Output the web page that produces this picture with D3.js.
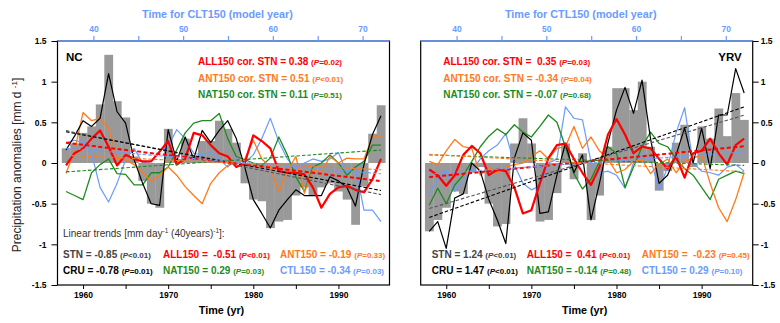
<!DOCTYPE html>
<html>
<head>
<meta charset="utf-8">
<script src="https://cdn.jsdelivr.net/npm/d3@7"></script>
<style>
  body { margin: 0; background: #fff; }
  svg { display: block; font-family: "Liberation Sans", Arial, Helvetica, sans-serif; }
  text { white-space: pre; }
</style>
</head>
<body>
<div id="chart"></div>
<script>

// --------------------------------------------------------
// (1) Data
// --------------------------------------------------------

var years = d3.range(1958, 1996)

// NC panel
var stnNC = [0.18,0.24,0.37,0.45,0.72,1.33,0.76,0.56,0.08,-0.22,-0.50,-0.55,
             0.42,0.05,0.30,0.08,0.27,0.27,0.52,0.42,0.25,-0.25,
             -0.45,-0.47,-0.80,-0.72,-0.70,-0.40,-0.30,-0.40,-0.30,-0.25,-0.35,-0.45,-0.76,-0.29,0.36,0.71]
var cruNC = [0.16,0.33,0.52,0.45,0.55,1.10,0.63,0.49,0.04,-0.25,-0.50,-0.52,
             0.41,0.02,0.32,0.05,0.40,0.25,0.40,0.52,0.30,-0.05,
             -0.45,-0.62,-0.80,-0.58,-0.45,-0.33,-0.40,-0.40,-0.40,-0.17,-0.22,-0.30,-0.53,-0.02,0.35,0.58]
var allNC = [-0.03,0.12,0.18,0.30,0.40,0.20,-0.03,0.10,0.05,0.02,0.02,0.14,
             0.27,-0.02,0.05,0.37,0.34,0.22,0.12,0.08,-0.05,0.00,
             0.34,0.27,0.18,-0.10,-0.12,-0.12,-0.14,-0.30,-0.55,-0.38,-0.30,-0.28,-0.33,-0.36,-0.20,0.05]
var antNC = [-0.13,0.15,0.62,0.52,0.55,0.43,0.06,0.04,-0.02,-0.12,-0.22,-0.15,
             -0.05,-0.15,-0.29,-0.40,-0.50,-0.25,-0.12,-0.03,0.00,0.05,
             0.28,0.05,-0.05,-0.35,-0.10,0.08,-0.37,-0.08,-0.12,0.08,0.00,0.06,0.05,0.05,0.32,0.32]
var natNC = [-0.35,-0.40,-0.45,-0.12,-0.02,0.05,-0.13,-0.14,-0.27,-0.27,-0.12,-0.12,
             -0.05,0.16,0.37,0.49,0.52,0.52,0.61,0.30,0.08,0.04,
             0.00,-0.03,0.06,0.32,0.10,-0.17,-0.35,-0.05,0.00,0.10,0.00,-0.15,-0.05,0.02,0.22,0.22]
var ctlNC = [0.25,0.28,0.25,0.12,-0.30,-0.48,-0.25,0.04,0.18,0.00,0.02,0.15,
             0.20,0.41,0.30,0.12,0.10,0.13,0.05,-0.05,0.05,0.00,
             0.10,0.30,0.55,0.26,0.05,-0.08,0.00,0.05,0.02,0.05,0.13,-0.12,-0.05,-0.58,-0.58,-0.72]

// YRV panel
var stnYRV = [-0.84,-0.70,-0.55,-0.35,-0.38,-0.12,-0.05,-0.50,-0.78,-0.75,0.24,0.55,
              0.24,-0.72,-0.70,-0.37,0.24,-0.20,0.12,-0.70,-0.40,0.20,
              0.92,0.92,0.65,1.00,0.20,-0.34,-0.10,0.25,0.47,-0.05,0.45,0.30,0.67,0.33,0.86,0.53]
var cruYRV = [-0.84,-0.72,-1.05,-0.43,-0.38,0.00,-0.10,-0.45,-0.70,-0.99,0.06,0.37,
              0.28,-0.62,-0.60,-0.15,0.24,-0.12,0.10,-0.70,-0.25,0.25,
              0.65,0.93,0.61,1.02,0.30,-0.25,-0.15,0.10,0.43,0.00,0.43,-0.07,0.59,0.59,1.16,0.86]
var allYRV = [-0.08,-0.15,-0.28,-0.15,0.10,0.21,0.12,-0.15,-0.08,-0.10,-0.30,-0.62,
              -0.58,-0.25,0.06,0.22,0.24,0.05,-0.12,-0.27,-0.05,0.35,
              0.54,0.35,0.12,0.20,0.18,0.05,-0.07,0.08,-0.18,0.12,0.15,0.30,0.12,-0.02,0.22,0.30]
var antYRV = [0.02,-0.02,0.15,0.29,0.20,0.18,-0.15,-0.05,-0.12,-0.05,-0.02,0.00,
              0.08,0.15,0.05,0.18,0.20,0.45,0.18,0.32,0.15,0.05,
              -0.12,-0.08,0.02,0.04,-0.13,-0.02,0.05,-0.12,0.02,0.06,0.10,-0.25,-0.55,-0.72,-0.45,-0.12]
var natYRV = [-0.52,-0.31,-0.50,-0.27,-0.15,0.02,0.20,0.33,0.42,0.35,0.47,0.38,
              0.32,0.45,0.59,0.50,0.20,-0.13,-0.32,-0.20,0.02,0.20,
              0.12,-0.30,-0.05,0.20,0.38,0.24,0.20,0.05,-0.07,-0.15,-0.30,-0.45,-0.20,-0.15,-0.10,-0.13]
var ctlYRV = [-0.38,-0.20,-0.10,-0.35,-0.22,-0.10,0.05,0.15,0.22,0.36,-0.02,-0.25,
              -0.33,-0.28,0.00,0.05,0.69,0.55,0.53,0.02,-0.12,-0.10,
              -0.15,-0.31,0.00,0.10,0.05,-0.33,-0.05,0.37,0.68,0.00,-0.10,-0.12,-0.15,-0.05,-0.02,-0.10]

// correlation texts
var corLabels = ["ALL150", "ANT150", "NAT150"]
var corNC = ["0.38", "0.51", "0.11"]
var corPNC = ["=0.02", "<0.01", "=0.51"]
var corYRV = [" 0.35", "-0.34", "-0.07"]
var corPYRV = ["=0.03", "=0.04", "=0.68"]

// linear trends (mm/day per 40 years), order: STN, CRU, ALL, NAT, ANT, CTL
var trendLabels = ["STN", "CRU", "ALL150", "NAT150", "ANT150", "CTL150"]
var trendNC = ["-0.85", "-0.78", " -0.51", "0.29", "-0.19", "-0.34"]
var trendPNC = ["<0.01", "=0.01", "<0.01", "=0.03", "=0.33", "=0.03"]
var trendYRV = ["1.24", "1.47", " 0.41", "-0.14", " -0.23", "0.29"]
var trendPYRV = ["<0.01", "<0.01", "<0.01", "=0.48", "=0.45", "=0.10"]

var yTicks = [-1.5, -1, -0.5, 0, 0.5, 1, 1.5]
var yearTicks = [1960, 1965, 1970, 1975, 1980, 1985, 1990]
var modelTicks = [40, 45, 50, 55, 60, 65, 70]


// --------------------------------------------------------
// (2) Layout
// --------------------------------------------------------

var svg_width = 780
var svg_height = 323
var top_y = 41
var bottom_y = 285
var panel_w = 332

var blue = "#6b9bff"
var colors = { STN: "#444", CRU: "#000", ALL150: "#ff0000", ANT150: "#ff7a1a", NAT150: "#1c8c1c", CTL150: "#6b9bff" }

const svg = d3.select("#chart")
  .append("svg")
    .attr("width", svg_width)
    .attr("height", svg_height)

const y = d3.scaleLinear().domain([-1.5, 1.5]).range([bottom_y, top_y])


// small helper: "LABEL = value (P=..)"
function statText(g, x0, y0, label, value, p, color) {
  const t = g.append("text")
      .attr("x", x0).attr("y", y0)
      .attr("fill", color)
      .attr("font-weight", "bold")
  t.append("tspan").attr("font-size", 10).text(label + " = " + value + " ")
  t.append("tspan").attr("font-size", 8).text("(")
  t.append("tspan").attr("font-size", 8).attr("font-style", "italic").text("P")
  t.append("tspan").attr("font-size", 8).text(p + ")")
}


// --------------------------------------------------------
// (3) Draw one panel
// --------------------------------------------------------

function drawPanel(o) {

  const g = svg.append("g").attr("transform", `translate(${o.left}, 0)`)

  const x = d3.scaleLinear().domain([1957, 1996]).range([0, panel_w])
  const xm = d3.scaleLinear().domain([36, 73]).range([0, panel_w])
  const bw = x(1958) - x(1957)

  // (31) STN bars
  g.selectAll(".bar")
    .data(o.stn)
    .join("rect")
      .attr("x", (d, i) => x(years[i]) - bw / 2)
      .attr("width", bw + 0.3)
      .attr("y", d => y(Math.max(0, d)))
      .attr("height", d => Math.abs(y(d) - y(0)))
      .attr("fill", "#999")

  // (32) model lines
  const line = d3.line().x((d, i) => x(years[i])).y(d => y(d))
  const series = [
    { v: o.ctl, c: colors.CTL150, w: 1.2 },
    { v: o.nat, c: colors.NAT150, w: 1.3 },
    { v: o.ant, c: colors.ANT150, w: 1.3 },
    { v: o.cru, c: "#000", w: 1.2 },
    { v: o.all, c: colors.ALL150, w: 2.2 }
  ]
  series.forEach(s => {
    g.append("path")
      .datum(s.v)
      .attr("d", line)
      .attr("fill", "none")
      .attr("stroke", s.c)
      .attr("stroke-width", s.w)
      .attr("stroke-linejoin", "round")
  })

  // (33) linear trend lines (slope from text, through series mean)
  const trendSeries = [o.stn, o.cru, o.all, o.nat, o.ant, o.ctl]
  const trendColors = ["#555", "#000", colors.ALL150, colors.NAT150, colors.ANT150, colors.CTL150]
  const ym = d3.mean(years)
  trendSeries.forEach((s, k) => {
    const slope = +o.trend[k] / 40
    const m = d3.mean(s)
    const ends = [1958, 1995].map(yr => [x(yr), y(m + slope * (yr - ym))])
    g.append("line")
      .attr("x1", ends[0][0]).attr("y1", ends[0][1])
      .attr("x2", ends[1][0]).attr("y2", ends[1][1])
      .attr("stroke", trendColors[k])
      .attr("stroke-width", k == 2 ? 2 : 1.1)
      .attr("stroke-dasharray", k == 2 ? "4,2.5" : "3.5,2")
  })

  // (34) frame
  g.append("rect")
    .attr("x", 0).attr("y", top_y)
    .attr("width", panel_w).attr("height", bottom_y - top_y)
    .attr("fill", "none").attr("stroke", "#000").attr("stroke-width", 1.2)

  // (35) bottom axis
  const xb = g.append("g")
    .attr("transform", `translate(0, ${bottom_y})`)
    .call(d3.axisBottom(x).tickValues(yearTicks).tickSize(4).tickPadding(3)
      .tickFormat(d => d % 10 == 0 ? d : ""))
  xb.select(".domain").remove()
  xb.selectAll("text").attr("font-size", 8.5).attr("font-weight", "bold")
    .attr("font-family", null)

  // (36) top axis (model years)
  const xt = g.append("g")
    .attr("transform", `translate(0, ${top_y})`)
    .call(d3.axisTop(xm).tickValues(modelTicks).tickSize(5).tickPadding(4)
      .tickFormat(d => d % 10 == 0 ? d : ""))
  xt.select(".domain").remove()
  xt.selectAll("line").attr("stroke", blue).attr("stroke-width", 1.2)
  xt.selectAll("text").attr("fill", blue).attr("font-size", 8.5).attr("font-weight", "bold")
    .attr("font-family", null)
  g.append("line")
    .attr("x1", 0).attr("x2", panel_w).attr("y1", top_y).attr("y2", top_y)
    .attr("stroke", blue).attr("stroke-width", 1.4)

  g.append("text")
    .attr("x", panel_w / 2 - 6).attr("y", 17.5)
    .attr("text-anchor", "middle")
    .attr("fill", blue).attr("font-size", 10.8).attr("font-weight", "bold")
    .text(o.topTitle)

  // (37) y axis
  const yAxis = o.yRight
    ? d3.axisRight(y).tickSize(6).tickPadding(2)
    : d3.axisLeft(y).tickSize(6).tickPadding(5)
  const ya = g.append("g")
    .attr("transform", `translate(${o.yRight ? panel_w : 0}, 0)`)
    .call(yAxis.tickValues(yTicks).tickFormat(d => String(d)))
  ya.select(".domain").remove()
  ya.selectAll("text").attr("font-size", 8.5).attr("font-weight", "bold")
    .attr("font-family", null)

  g.append("text")
    .attr("x", panel_w / 2 - 2).attr("y", 314)
    .attr("text-anchor", "middle")
    .attr("font-size", 10.8).attr("font-weight", "bold")
    .text("Time (yr)")

  // (38) region name
  g.append("text")
    .attr("x", o.nameX).attr("y", 61)
    .attr("text-anchor", o.nameAnchor)
    .attr("font-size", 11.5).attr("font-weight", "bold")
    .text(o.name)

  // (39) correlation texts
  corLabels.forEach((lab, k) => {
    statText(g, o.corX, 65 + k * 16.5, lab + " cor. STN", o.cor[k], o.corP[k], colors[lab])
  })

  // (40) trend texts: 3 columns x 2 rows
  trendLabels.forEach((lab, k) => {
    const col = Math.floor(k / 2), row = k % 2
    statText(g, o.cols[col], 257.5 + row * 16.5, lab, o.trend[k], o.trendP[k],
      lab == "STN" ? "#444" : colors[lab])
  })

  return g
}


// --------------------------------------------------------
// (4) Panels
// --------------------------------------------------------

const gNC = drawPanel({
  left: 57.5, yRight: false, name: "NC", nameX: 8.5, nameAnchor: "start",
  topTitle: "Time for CLT150 (model year)",
  stn: stnNC, cru: cruNC, all: allNC, ant: antNC, nat: natNC, ctl: ctlNC,
  cor: corNC, corP: corPNC, corX: 140.5,
  trend: trendNC, trendP: trendPNC, cols: [5.5, 105.5, 222.5]
})

const gYRV = drawPanel({
  left: 420.7, yRight: true, name: "YRV", nameX: 321, nameAnchor: "end",
  topTitle: "Time for CTL150 (model year)",
  stn: stnYRV, cru: cruYRV, all: allYRV, ant: antYRV, nat: natYRV, ctl: ctlYRV,
  cor: corYRV, corP: corPYRV, corX: 22.6,
  trend: trendYRV, trendP: trendPYRV, cols: [11, 106, 221]
})

// "Linear trends" note (NC panel only)
const lt = gNC.append("text")
  .attr("x", 5.5).attr("y", 236.5)
  .attr("font-size", 10).attr("fill", "#333")
lt.append("tspan").text("Linear trends [mm day")
lt.append("tspan").attr("font-size", 6.5).attr("dy", -4).text("-1")
lt.append("tspan").attr("dy", 4).text(" (40years)")
lt.append("tspan").attr("font-size", 6.5).attr("dy", -4).text("-1")
lt.append("tspan").attr("dy", 4).text("]:")

// y axis title
const yl = svg.append("text")
  .attr("transform", "translate(21, 165) rotate(-90)")
  .attr("text-anchor", "middle")
  .attr("font-size", 12).attr("fill", "#222")
yl.append("tspan").text("Precipitation anomalies [mm d ")
yl.append("tspan").attr("font-size", 8).attr("dy", -4).text("-1")
yl.append("tspan").attr("dy", 4).text("]")

</script>
</body>
</html>
